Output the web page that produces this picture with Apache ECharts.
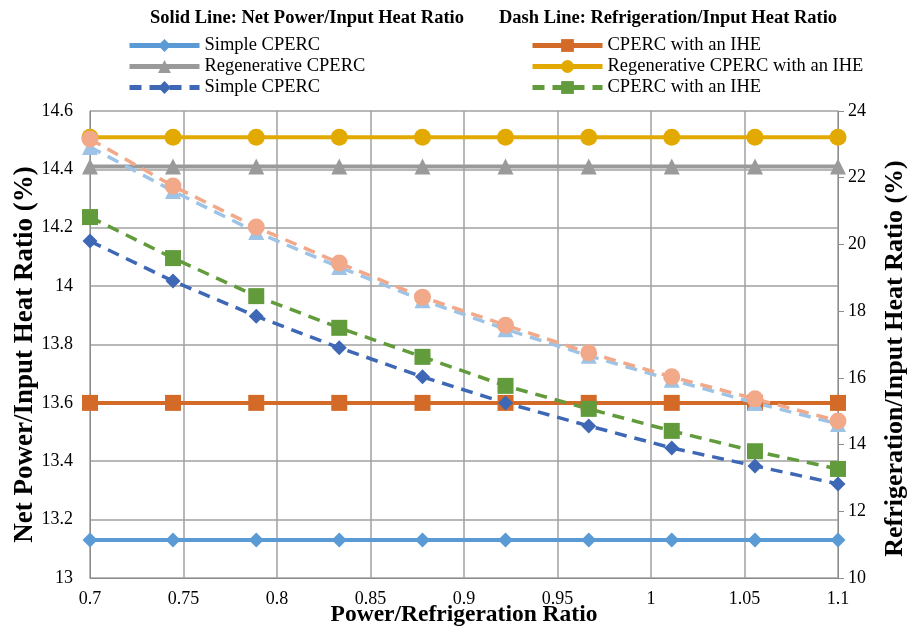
<!DOCTYPE html>
<html>
<head>
<meta charset="utf-8">
<script src="https://cdn.jsdelivr.net/npm/echarts@6/dist/echarts.min.js"></script>
<style>
  html, body { margin: 0; padding: 0; background: #fff; }
  #chart { width: 908px; height: 633px; }
</style>
</head>
<body>
<div id="chart"></div>
<script>
// x positions (power/refrigeration ratio)
const xValues = [0.7, 0.7444, 0.7889, 0.8333, 0.8778, 0.9222, 0.9667, 1.0111, 1.0556, 1.1];

// solid lines, left axis (net power / input heat, %)
const simpleSolid = [13.13, 13.13, 13.13, 13.13, 13.13, 13.13, 13.13, 13.13, 13.13, 13.13];
const regenSolid = [14.41, 14.41, 14.41, 14.41, 14.41, 14.41, 14.41, 14.41, 14.41, 14.41];
const iheSolid = [13.6, 13.6, 13.6, 13.6, 13.6, 13.6, 13.6, 13.6, 13.6, 13.6];
const regenIheSolid = [14.51, 14.51, 14.51, 14.51, 14.51, 14.51, 14.51, 14.51, 14.51, 14.51];

// dashed lines, right axis (refrigeration / input heat, %)
const simpleDash = [20.1, 18.9, 17.85, 16.9, 16.03, 15.25, 14.56, 13.9, 13.36, 12.82];
const iheDash = [20.82, 19.59, 18.45, 17.5, 16.63, 15.76, 15.07, 14.41, 13.8, 13.27];
const regenDash = [22.92, 21.6, 20.37, 19.32, 18.33, 17.46, 16.66, 15.94, 15.25, 14.62];
const regenIheDash = [23.16, 21.75, 20.52, 19.44, 18.42, 17.58, 16.75, 16.03, 15.37, 14.71];

const pair = arr => arr.map((v, i) => [xValues[i], v]);
const FONT = '"Liberation Serif", "Times New Roman", serif';

const line = (name, data, color, symbol, size, dashed, yIdx) => ({
  name: name,
  type: 'line',
  yAxisIndex: yIdx,
  data: pair(data),
  symbol: symbol,
  symbolSize: size,
  showSymbol: true,
  lineStyle: { color: color, width: dashed ? 3.5 : 4, type: dashed ? [12, 8] : 'solid' },
  itemStyle: { color: color },
  animation: false,
});

const legendText = { fontFamily: FONT, fontSize: 18.5, color: '#000' };

const myChart = echarts.init(document.getElementById('chart'));

const option = {
  textStyle: { fontFamily: FONT },
  title: [
    {
      text: 'Solid Line: Net Power/Input Heat Ratio',
      left: 145, top: 4,
      textStyle: { fontFamily: FONT, fontSize: 18.5, fontWeight: 'bold', color: '#000' },
    },
    {
      text: 'Dash Line: Refrigeration/Input Heat Ratio',
      left: 494, top: 4,
      textStyle: { fontFamily: FONT, fontSize: 18.5, fontWeight: 'bold', color: '#000' },
    },
  ],
  legend: [
    {
      orient: 'vertical',
      left: 122, top: 31,
      itemWidth: 70, itemHeight: 16, itemGap: 2,
      lineStyle: { width: 5 },
      data: ['Simple CPERC', 'Regenerative CPERC', 'Simple CPERC '],
      textStyle: legendText,
    },
    {
      orient: 'vertical',
      left: 525, top: 31,
      itemWidth: 70, itemHeight: 16, itemGap: 2,
      lineStyle: { width: 5 },
      data: ['CPERC with an IHE', 'Regenerative CPERC with an IHE', 'CPERC with an IHE '],
      textStyle: legendText,
    },
  ],
  grid: { left: 90, right: 70, top: 111, bottom: 55, outerBoundsMode: 'none' },
  xAxis: {
    type: 'value',
    min: 0.7, max: 1.1, interval: 0.05,
    name: 'Power/Refrigeration Ratio',
    nameLocation: 'middle', nameGap: 25, nameMoveOverlap: false,
    nameTextStyle: { fontFamily: FONT, fontSize: 23.5, fontWeight: 'bold', color: '#000' },
    axisLine: { lineStyle: { color: '#8c8c8c', width: 1 } },
    axisTick: { show: false },
    axisLabel: { fontFamily: FONT, fontSize: 18, color: '#000', margin: 12 },
    splitLine: { show: true, lineStyle: { color: '#a0a0a0', width: 1.5 } },
  },
  yAxis: [
    {
      type: 'value',
      min: 13, max: 14.6, interval: 0.2,
      name: 'Net Power/Input Heat Ratio (%)',
      nameLocation: 'middle', nameGap: 51, nameRotate: 90, nameMoveOverlap: false,
      nameTextStyle: { fontFamily: FONT, fontSize: 27, fontWeight: 'bold', color: '#000', padding: [0, 20, 0, 0] },
      axisLine: { show: true, lineStyle: { color: '#8c8c8c', width: 1 } },
      axisTick: { show: false },
      axisLabel: { fontFamily: FONT, fontSize: 18, color: '#000', margin: 17 },
      splitLine: { show: true, lineStyle: { color: '#a0a0a0', width: 1.5 } },
    },
    {
      type: 'value',
      min: 10, max: 24, interval: 2,
      name: 'Refrigeration/Input Heat Ratio (%)',
      nameLocation: 'middle', nameGap: 44, nameRotate: 90, nameMoveOverlap: false,
      nameTextStyle: { fontFamily: FONT, fontSize: 26, fontWeight: 'bold', color: '#000', padding: [0, 28, 0, 0] },
      axisLine: { show: true, lineStyle: { color: '#8c8c8c', width: 1 } },
      axisTick: { show: true, length: 6, lineStyle: { color: '#8c8c8c' } },
      axisLabel: { fontFamily: FONT, fontSize: 18, color: '#000', margin: 10 },
      splitLine: { show: false },
    },
  ],
  series: [
    line('Simple CPERC', simpleSolid, '#5b9bd5', 'diamond', 15, false, 0),
    line('Regenerative CPERC', regenSolid, '#9a9a9a', 'triangle', 16, false, 0),
    line('CPERC with an IHE', iheSolid, '#d46a27', 'rect', 16, false, 0),
    line('Regenerative CPERC with an IHE', regenIheSolid, '#e2aa00', 'circle', 17, false, 0),
    line('Regenerative CPERC (dash)', regenDash, '#9dc3e6', 'triangle', 16, true, 1),
    line('Regenerative CPERC with an IHE (dash)', regenIheDash, '#f1a98a', 'circle', 17, true, 1),
    line('Simple CPERC ', simpleDash, '#3e67b5', 'diamond', 15, true, 1),
    line('CPERC with an IHE ', iheDash, '#629b3b', 'rect', 16, true, 1),
  ],
};

myChart.setOption(option);
window.addEventListener('resize', function () {
  myChart.resize();
});
</script>
</body>
</html>
